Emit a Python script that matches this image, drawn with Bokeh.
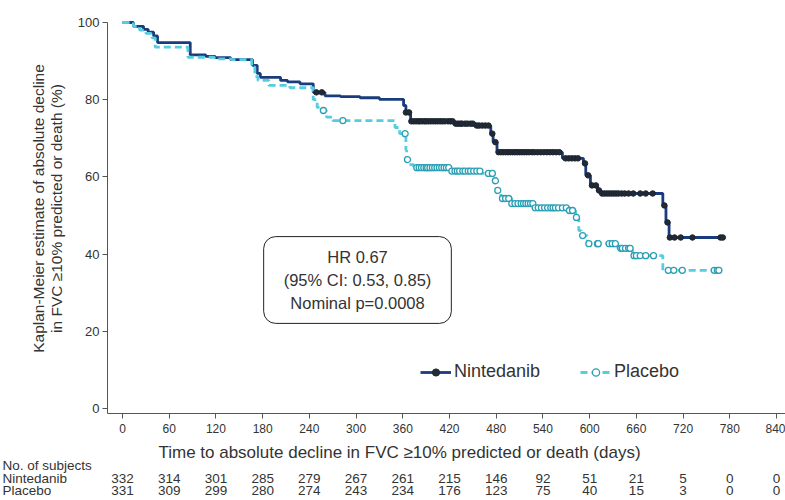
import numpy as np
from bokeh.plotting import figure
from bokeh.models import (FixedTicker, Label, Legend, LegendItem, Range1d,
                          LinearAxis, ColumnDataSource)
from bokeh.core.properties import value
from bokeh.embed import file_html
from bokeh.resources import INLINE

FONT = "Liberation Sans"
TEXT = "#333333"

# Kaplan-Meier step points: day of each drop and the estimate (%) after it
nin_days = [0, 14, 27, 33, 40, 45, 87, 107, 119, 139, 167, 173, 177, 203, 212,
            228, 245, 260, 280, 305, 330, 361, 364, 370, 425, 453, 473, 476,
            481, 565, 592, 595, 601, 610, 614, 694, 698, 702]
nin_surv = [100, 99.0, 98.2, 97.5, 96.5, 94.8, 91.6, 91.2, 90.9, 90.4, 88.9,
            86.8, 85.8, 85.0, 84.6, 84.1, 81.9, 81.0, 80.8, 80.5, 80.1, 78.5,
            76.7, 74.4, 73.8, 73.3, 71.2, 69.0, 66.4, 64.8, 63.5, 60.4, 57.8,
            56.5, 55.7, 52.6, 48.2, 44.3]
nin_end = 772

pla_days = [0, 14, 22, 30, 38, 42, 84, 118, 140, 166, 170, 174, 188, 215, 245,
            250, 255, 262, 270, 350, 356, 364, 365, 368, 374, 421, 460, 476,
            480, 486, 500, 528, 572, 582, 586, 589, 597, 636, 655, 694]
pla_surv = [100, 99.0, 98.0, 97.2, 96.0, 93.6, 91.0, 90.6, 90.4, 88.5, 86.0,
            85.0, 83.7, 83.1, 80.0, 78.0, 77.2, 75.5, 74.6, 72.8, 71.2, 67.0,
            64.5, 63.2, 62.4, 61.5, 60.9, 59.0, 56.5, 54.4, 53.1, 52.0, 51.3,
            49.5, 46.1, 44.8, 42.7, 41.5, 39.6, 35.8]
pla_end = 768

# censoring times (days)
nin_censor = [249, 256, 364, 368, 371, 374, 377, 380, 382, 385, 388, 390,
              393, 396, 399, 402, 405, 408, 411, 414, 418, 421, 424, 428, 431,
              434, 436, 440, 443, 447, 450, 455, 458, 462, 466, 470, 475, 479,
              483, 486, 489, 492, 495, 498, 501, 504, 507, 510, 513, 516, 519,
              522, 526, 529, 533, 537, 541, 545, 549, 553, 557, 561, 569, 573,
              577, 581, 585, 594, 598, 603, 608, 612, 616, 619, 622, 625, 628,
              631, 634, 637, 641, 645, 650, 656, 665, 672, 681, 696, 700, 703,
              709, 717, 732, 768, 771]
pla_censor = [258, 283, 363, 366, 378, 381, 384, 387, 390, 392, 395, 398, 401,
              404, 407, 410, 413, 416, 419, 423, 427, 430, 433, 437, 440, 444,
              447, 451, 455, 459, 470, 475, 479, 482, 488, 492, 496, 500, 504,
              508, 512, 515, 518, 521, 524, 527, 530, 534, 538, 542, 546, 550,
              553, 556, 560, 565, 570, 574, 578, 583, 591, 599, 610, 611, 625,
              629, 633, 640, 642, 646, 650, 652, 657, 660, 665, 672, 682, 701,
              708, 719, 760, 764, 766]

# axis ticks
x_ticks = list(range(0, 841, 60))
y_ticks = [0, 20, 40, 60, 80, 100]

# number at risk table
risk_days = [0, 60, 120, 180, 240, 300, 360, 420, 480, 540, 600, 660, 720, 780, 840]
risk_nin = [332, 314, 301, 285, 279, 267, 261, 215, 146, 92, 51, 21, 5, 0, 0]
risk_pla = [331, 309, 299, 280, 274, 243, 234, 176, 123, 75, 40, 15, 3, 0, 0]
row_names = ["No. of subjects", "Nintedanib", "Placebo"]

x_title = "Time to absolute decline in FVC \u226510% predicted or death (days)"
y_title = ["Kaplan-Meier estimate of absolute decline",
           "in FVC \u226510% predicted or death (%)"]
hr_text = "HR 0.67\n(95% CI: 0.53, 0.85)\nNominal p=0.0008"

NIN_COLOR = "#1a3c7c"
PLA_COLOR = "#55cde0"


def km_at(days, surv, t):
    idx = np.searchsorted(np.asarray(days), np.asarray(t), side="right") - 1
    return list(np.asarray(surv)[idx])


# page geometry: the frame fills the whole canvas; axes sit at fixed positions
W, H = 785, 500
X0_PX, PX_PER_DAY = 122.0, 0.7786       # day 0 position and scale
Y0_PX, PX_PER_PCT = 408.0, 3.86         # 0 % position and scale


def day_at(px):
    return (px - X0_PX) / PX_PER_DAY


def pct_at(py):
    return (Y0_PX - py) / PX_PER_PCT


axis_x = day_at(107)      # where the vertical axis stands
axis_y = pct_at(412.5)    # where the horizontal axis runs

p = figure(width=W, height=H, output_backend="svg", toolbar_location=None,
           x_range=Range1d(day_at(0), day_at(W)),
           y_range=Range1d(pct_at(H), pct_at(0)),
           x_axis_location=None, y_axis_location=None,
           min_border=0)
p.outline_line_color = None
p.grid.visible = False

# survival curves
n_line = p.step(nin_days + [nin_end], nin_surv + [nin_surv[-1]], mode="after",
                line_color=NIN_COLOR, line_width=2.8)
p_line = p.step(pla_days + [pla_end], pla_surv + [pla_surv[-1]], mode="after",
                line_color=PLA_COLOR, line_width=2.8, line_dash="7 4")

# censor marks
n_cens = p.scatter(nin_censor, km_at(nin_days, nin_surv, nin_censor),
                   marker="circle", size=5.5, fill_color="#222a35",
                   line_color="#1c2430", line_width=1)
p_cens = p.scatter(pla_censor, km_at(pla_days, pla_surv, pla_censor),
                   marker="circle", size=6, fill_color="white",
                   line_color="#2a9fb4", line_width=1.3)

# axes
xax = LinearAxis(fixed_location=axis_y, bounds=(axis_x, day_at(W)),
                 ticker=FixedTicker(ticks=x_ticks))
yax = LinearAxis(fixed_location=axis_x, bounds=(axis_y, 100),
                 ticker=FixedTicker(ticks=y_ticks))
for ax, size in ((xax, "12px"), (yax, "13px")):
    ax.axis_line_color = "#555555"
    ax.major_tick_line_color = "#555555"
    ax.major_tick_out = 5
    ax.major_tick_in = 0
    ax.minor_tick_line_color = None
    ax.major_label_text_font = FONT
    ax.major_label_text_font_size = size
    ax.major_label_text_color = TEXT
xax.major_label_standoff = 6
yax.major_label_standoff = 3
p.add_layout(xax, "below")
p.add_layout(yax, "left")

# axis titles
p.text(x=[day_at(38), day_at(56)], y=[pct_at(208)] * 2, text=y_title,
       angle=np.pi / 2, text_align="center", text_baseline="middle",
       text_font=value(FONT), text_font_size="15.5px", text_color=TEXT)
p.text(x=[day_at(399)], y=[pct_at(452)], text=[x_title], text_align="center",
       text_baseline="middle", text_font=value(FONT), text_font_size="17px",
       text_color=TEXT)

# hazard ratio box
p.add_layout(Label(x=day_at(357), y=pct_at(279.5), text=hr_text,
                   text_align="center", text_baseline="middle",
                   text_font=FONT, text_font_size="16.5px", text_color=TEXT,
                   text_line_height=1.3,
                   border_line_color="#222222", border_line_width=1,
                   border_radius=12,
                   padding=dict(left=20, right=20, top=11, bottom=11),
                   background_fill_color="white"))

# legend
legend = Legend(items=[LegendItem(label="Nintedanib", renderers=[n_line, n_cens]),
                       LegendItem(label="Placebo", renderers=[p_line, p_cens])],
                orientation="horizontal", location=(420, H - 382),
                padding=0, margin=0, spacing=40, label_standoff=3,
                glyph_width=31, glyph_height=18, label_height=18,
                border_line_color=None, background_fill_alpha=0,
                label_text_font=FONT, label_text_font_size="18px",
                label_text_color=TEXT)
p.add_layout(legend)

# number-at-risk table
row_y = [pct_at(465), pct_at(478), pct_at(490)]
p.text(x=[day_at(2)] * 3, y=row_y, text=row_names, text_align="left",
       text_baseline="middle", text_font=value(FONT), text_font_size="13.5px",
       text_color=TEXT)
risk_src = ColumnDataSource(dict(
    x=risk_days + risk_days,
    y=[row_y[1]] * len(risk_days) + [row_y[2]] * len(risk_days),
    txt=[str(v) for v in risk_nin] + [str(v) for v in risk_pla]))
p.text(x="x", y="y", text="txt", source=risk_src, text_align="center",
       text_baseline="middle", text_font=value(FONT), text_font_size="13.5px",
       text_color=TEXT)

open("out.html", "w").write(file_html(p, INLINE))
